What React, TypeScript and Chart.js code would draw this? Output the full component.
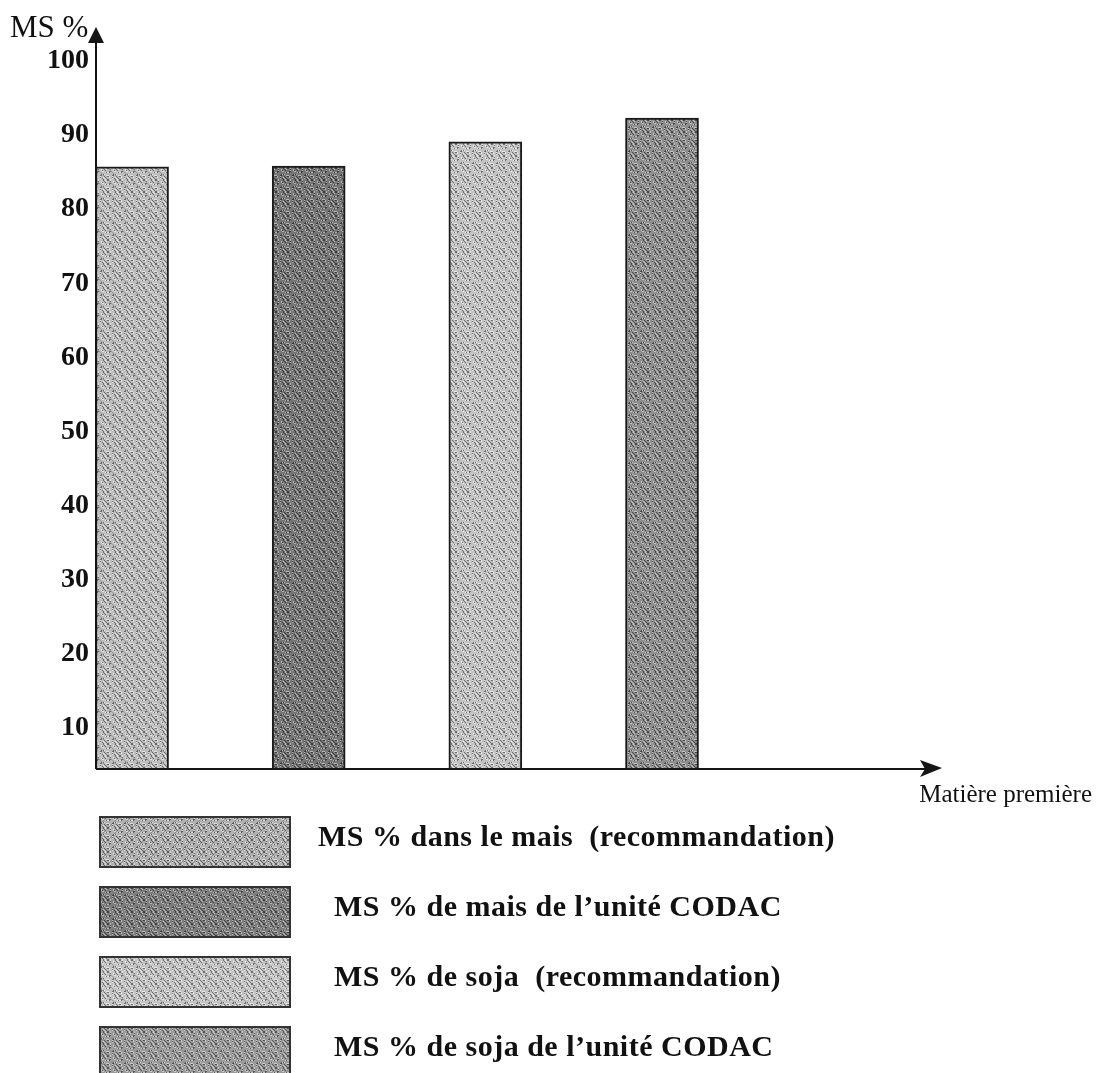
import React, { useEffect, useRef } from "react";
import { Chart, registerables } from "chart.js";

Chart.register(...registerables);

// ---- data ----
const categories = [
  "MS % dans le mais  (recommandation)",
  "MS % de mais de l\u2019unité CODAC",
  "MS % de soja  (recommandation)",
  "MS % de soja de l\u2019unité CODAC",
];
const msValues = [85.7, 85.8, 89.1, 92.3];
const yTickValues = [10, 20, 30, 40, 50, 60, 70, 80, 90, 100];
const yAxisTitle = "MS %";
const xAxisTitle = "Matière première";

// ---- styles ----
const SERIF = "'Liberation Serif', 'Times New Roman', serif";
const textures = [
  { base: "#bdbdbd", dark: "#6a6a6a", light: "#e2e2e2", hatch: -1 },
  { base: "#767676", dark: "#3a3a3a", light: "#b4b4b4", hatch: 0 },
  { base: "#c2c2c2", dark: "#6e6e6e", light: "#e6e6e6", hatch: 0 },
  { base: "#8e8e8e", dark: "#474747", light: "#c4c4c4", hatch: 0 },
];
const legendTextures = [
  { base: "#b0b0b0", dark: "#5c5c5c", light: "#dcdcdc", hatch: 1 },
  { base: "#7e7e7e", dark: "#404040", light: "#b8b8b8", hatch: 0 },
  { base: "#c4c4c4", dark: "#707070", light: "#e6e6e6", hatch: -1 },
  { base: "#9a9a9a", dark: "#555555", light: "#cacaca", hatch: 0 },
];

function makeTexture(t: { base: string; dark: string; light: string; hatch: number }) {
  const n = 12;
  const c = document.createElement("canvas");
  c.width = n;
  c.height = n;
  const g = c.getContext("2d")!;
  g.fillStyle = t.base;
  g.fillRect(0, 0, n, n);
  for (let i = 0; i < n; i++) {
    for (let j = 0; j < n; j++) {
      const h = (i * 7 + j * 13 + i * j * 3) % 11;
      if (h === 0 || h === 5) {
        g.fillStyle = t.dark;
        g.fillRect(i, j, 1, 1);
      } else if (h === 3 || h === 8) {
        g.fillStyle = t.light;
        g.fillRect(i, j, 1, 1);
      }
    }
  }
  if (t.hatch !== 0) {
    g.strokeStyle = t.dark;
    g.globalAlpha = 0.45;
    g.lineWidth = 1;
    for (const off of [-n, 0, n]) {
      g.beginPath();
      if (t.hatch < 0) {
        g.moveTo(off - 1, -1);
        g.lineTo(off + n + 1, n + 1);
      } else {
        g.moveTo(off - 1, n + 1);
        g.lineTo(off + n + 1, -1);
      }
      g.stroke();
    }
    g.globalAlpha = 1;
  }
  return g.createPattern(c, "repeat")!;
}

export default function App() {
  const ref = useRef<HTMLCanvasElement | null>(null);

  useEffect(() => {
    if (!ref.current) return;
    const barFills = textures.map(makeTexture);
    const legendFills = legendTextures.map(makeTexture);

    const decor = {
      id: "decor",
      afterDatasetsDraw(chart: any) {
        const { ctx, chartArea } = chart;
        const ys = chart.scales.y;
        const x0 = chartArea.left;
        const yb = ys.getPixelForValue(ys.min);
        ctx.save();
        ctx.strokeStyle = "#151515";
        ctx.fillStyle = "#151515";
        ctx.lineWidth = 2;
        // y axis
        ctx.beginPath();
        ctx.moveTo(x0, yb);
        ctx.lineTo(x0, chartArea.top + 10);
        ctx.stroke();
        ctx.beginPath();
        ctx.moveTo(x0, chartArea.top - 1);
        ctx.lineTo(x0 - 8, chartArea.top + 15);
        ctx.lineTo(x0 + 8, chartArea.top + 15);
        ctx.closePath();
        ctx.fill();
        // x axis
        ctx.beginPath();
        ctx.moveTo(x0, yb);
        ctx.lineTo(chartArea.right - 12, yb);
        ctx.stroke();
        ctx.beginPath();
        ctx.moveTo(chartArea.right, yb - 1);
        ctx.lineTo(chartArea.right - 22, yb - 9);
        ctx.lineTo(chartArea.right - 17, yb);
        ctx.lineTo(chartArea.right - 22, yb + 8);
        ctx.closePath();
        ctx.fill();
        ctx.restore();
      },
      afterDraw(chart: any) {
        const { ctx } = chart;
        ctx.save();
        ctx.fillStyle = "#111";
        ctx.textBaseline = "alphabetic";
        // axis titles
        ctx.font = `31px ${SERIF}`;
        ctx.textAlign = "left";
        ctx.fillText(yAxisTitle, 10, 37);
        ctx.font = `25px ${SERIF}`;
        ctx.textAlign = "right";
        ctx.fillText(xAxisTitle, 1092, 802);
        // legend
        ctx.textAlign = "left";
        ctx.font = `bold 30px ${SERIF}`;
        try {
          (ctx as any).letterSpacing = "0.5px";
        } catch (e) {}
        categories.forEach((label, i) => {
          const top = 817 + 70 * i;
          ctx.fillStyle = legendFills[i];
          ctx.fillRect(100, top, 190, 50);
          ctx.strokeStyle = "#333";
          ctx.lineWidth = 2;
          ctx.strokeRect(100, top, 190, 50);
          ctx.fillStyle = "#111";
          ctx.fillText(label, i === 0 ? 318 : 334, 846 + 70 * i);
        });
        ctx.restore();
      },
    };

    const chart = new Chart(ref.current, {
      type: "bar",
      data: {
        datasets: [
          {
            label: yAxisTitle,
            data: msValues.map((v, i) => ({ x: i, y: v })),
            backgroundColor: barFills as any,
            borderColor: "#1a1a1a",
            borderWidth: 2,
            borderSkipped: "start",
            barThickness: 73,
          },
        ],
      },
      options: {
        responsive: false,
        animation: false,
        devicePixelRatio: 1,
        layout: { padding: { left: 0, right: 162, top: 28, bottom: 304 } },
        plugins: {
          legend: { display: false },
          tooltip: { enabled: false },
          title: { display: false },
        },
        scales: {
          x: { type: "linear", display: false, offset: false, min: -0.204, max: 4.585 },
          y: {
            type: "linear",
            min: 4.45,
            max: 104.45,
            grid: { display: false, drawTicks: false },
            border: { display: false },
            afterBuildTicks: (s: any) => {
              s.ticks = yTickValues.map((v) => ({ value: v }));
            },
            afterFit: (s: any) => {
              s.width = 96;
            },
            ticks: {
              padding: 7,
              color: "#111",
              autoSkip: false,
              font: { family: SERIF, size: 28, weight: "bold" },
            },
          },
        },
      },
      plugins: [decor],
    } as any);

    return () => chart.destroy();
  }, []);

  return (
    <div
      style={{
        position: "fixed",
        left: 0,
        top: 0,
        width: 1104,
        height: 1073,
        background: "#fff",
        overflow: "hidden",
      }}
    >
      <canvas ref={ref} width={1104} height={1073} style={{ display: "block" }} />
    </div>
  );
}
